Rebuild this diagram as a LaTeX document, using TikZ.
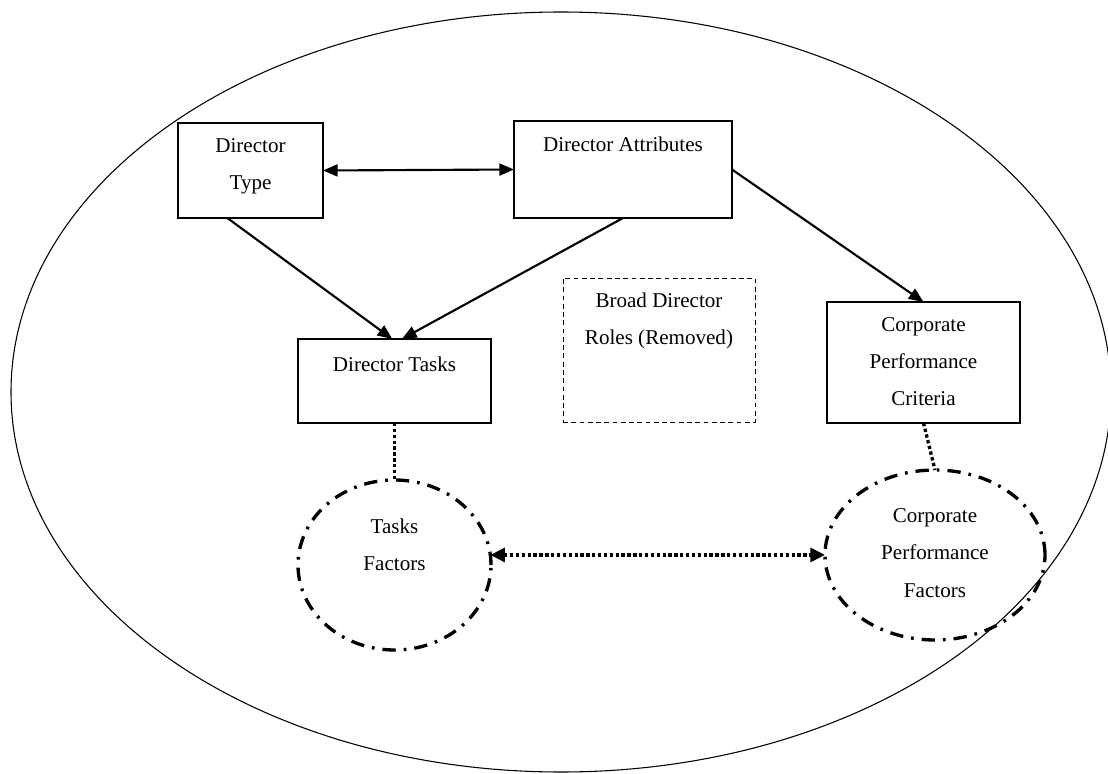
\documentclass[tikz,border=0pt]{standalone}
\usepackage{fontspec}
\setmainfont{Liberation Serif}
\usetikzlibrary{arrows.meta,shapes.geometric}
\begin{document}
\begin{tikzpicture}[x=0.75pt, y=-0.75pt,
	box/.style={draw, line width=1.1pt, inner sep=0pt, outer sep=0pt},
	roles box/.style={draw, line width=0.7pt, dash pattern=on 3.6pt off 2.6pt, inner sep=0pt, outer sep=0pt},
	factor/.style={ellipse, draw, line width=2.5pt, dash pattern=on 10pt off 6pt on 2pt off 6pt, inner sep=0pt, outer sep=0pt},
	txt/.style={font=\fontsize{15.8}{28}\selectfont, align=center, inner sep=0pt},
	link/.style={line width=1.6pt, -{Triangle[length=11pt, width=9pt]}},
	both link/.style={line width=1.6pt, {Triangle[length=11pt, width=9pt]}-{Triangle[length=11pt, width=9pt]}},
	dot link/.style={line width=2.5pt, dash pattern=on 2.5pt off 1.9pt},
	both dot link/.style={dot link, {Triangle[length=11pt, width=10.5pt]}-{Triangle[length=11pt, width=10.5pt]}}]
	\useasboundingbox (0,0) rectangle (1108,774);
	\draw[line width=0.8pt] (561,392) ellipse [x radius=412.5pt, y radius=285pt];
	\node[box, minimum width=108.75pt, minimum height=71.25pt] (type) at (250.5,170.5) {};
	\node[txt] (type text) at (250.5,166) {Director\\Type};
	\node[box, minimum width=163.5pt, minimum height=72.75pt] (attr) at (623,169.5) {};
	\node[txt] (attr text) at (623,144) {Director Attributes};
	\node[box, minimum width=144.75pt, minimum height=63pt] (tasks) at (394.5,381) {};
	\node[txt] (tasks text) at (394.5,364) {Director Tasks};
	\node[roles box, minimum width=144pt, minimum height=108pt] (roles) at (659,350) {};
	\node[txt] (roles text) at (659,321) {Broad Director\\Roles (Removed)};
	\node[box, minimum width=144.75pt, minimum height=90.75pt] (crit) at (923.5,362.5) {};
	\node[txt] (crit text) at (923.5,361.5) {Corporate\\Performance\\Criteria};
	\node[factor, minimum width=144.75pt, minimum height=127.5pt] (tfac) at (394.5,565) {};
	\node[txt] (tfac text) at (394.5,545) {Tasks\\Factors};
	\node[factor, minimum width=165pt, minimum height=127.5pt] (pfac) at (935,555) {};
	\node[txt] (pfac text) at (935,553) {Corporate\\Performance\\Factors};
	\draw[both link] (type.east) -- (attr.west);
	\draw[link] (type.-116) -- (tasks.93);
	\draw[link] (attr.south) -- (tasks.80);
	\draw[link] (attr.east) -- (crit.north);
	\draw[dot link] (tasks.south) -- (tfac.north);
	\draw[dot link] (crit.south) -- (pfac.north);
	\draw[both dot link] (tfac.6) -- (tfac.6 -| pfac.west);
\end{tikzpicture}
\end{document}
